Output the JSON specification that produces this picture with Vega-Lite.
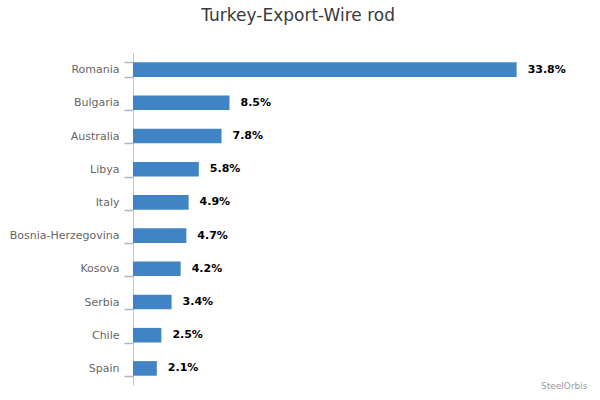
{
  "$schema": "https://vega.github.io/schema/vega-lite/v6.json",
  "autosize": "none",
  "width": 454,
  "height": 332,
  "padding": {"left": 133, "top": 53, "right": 13, "bottom": 15},
  "background": "white",
  "config": {
    "font": "DejaVu Sans",
    "view": {"stroke": null},
    "axis": {"ticks": true}
  },
  "title": {
    "text": "Turkey-Export-Wire rod",
    "frame": "bounds",
    "anchor": "middle",
    "fontSize": 17,
    "fontWeight": "normal",
    "color": "#3a3a3a",
    "offset": 22
  },
  "data": {
    "values": [
      {"country": "Romania", "share": 33.8},
      {"country": "Bulgaria", "share": 8.5},
      {"country": "Australia", "share": 7.8},
      {"country": "Libya", "share": 5.8},
      {"country": "Italy", "share": 4.9},
      {"country": "Bosnia-Herzegovina", "share": 4.7},
      {"country": "Kosova", "share": 4.2},
      {"country": "Serbia", "share": 3.4},
      {"country": "Chile", "share": 2.5},
      {"country": "Spain", "share": 2.1}
    ]
  },
  "transform": [
    {"calculate": "format(datum.share, '.1f') + '%'", "as": "label"}
  ],
  "encoding": {
    "y": {
      "field": "country",
      "type": "nominal",
      "sort": null,
      "scale": {"paddingInner": 0.56, "paddingOuter": 0.28},
      "axis": {
        "title": null,
        "ticks": true,
        "tickBand": "extent",
        "tickSize": 9,
        "tickWidth": 1.5,
        "tickColor": "#a8b8c8",
        "domainColor": "#b8c8d8",
        "labelColor": "#666666",
        "labelFontSize": 11,
        "labelPadding": 5
      }
    },
    "x": {
      "field": "share",
      "type": "quantitative",
      "scale": {"domain": [0, 40], "nice": false},
      "axis": {
        "title": "SteelOrbis",
        "titleAnchor": "end",
        "titleColor": "#9a9a9a",
        "titleFontSize": 9,
        "titleFontWeight": "normal",
        "titlePadding": -4,
        "labels": false,
        "ticks": false,
        "domain": false,
        "grid": false
      }
    }
  },
  "layer": [
    {"mark": {"type": "bar", "color": "#4084c5"}},
    {
      "mark": {
        "type": "text",
        "align": "left",
        "baseline": "middle",
        "dx": 11,
        "fontWeight": "bold",
        "fontSize": 11,
        "color": "#000000"
      },
      "encoding": {"text": {"field": "label"}}
    }
  ]
}
